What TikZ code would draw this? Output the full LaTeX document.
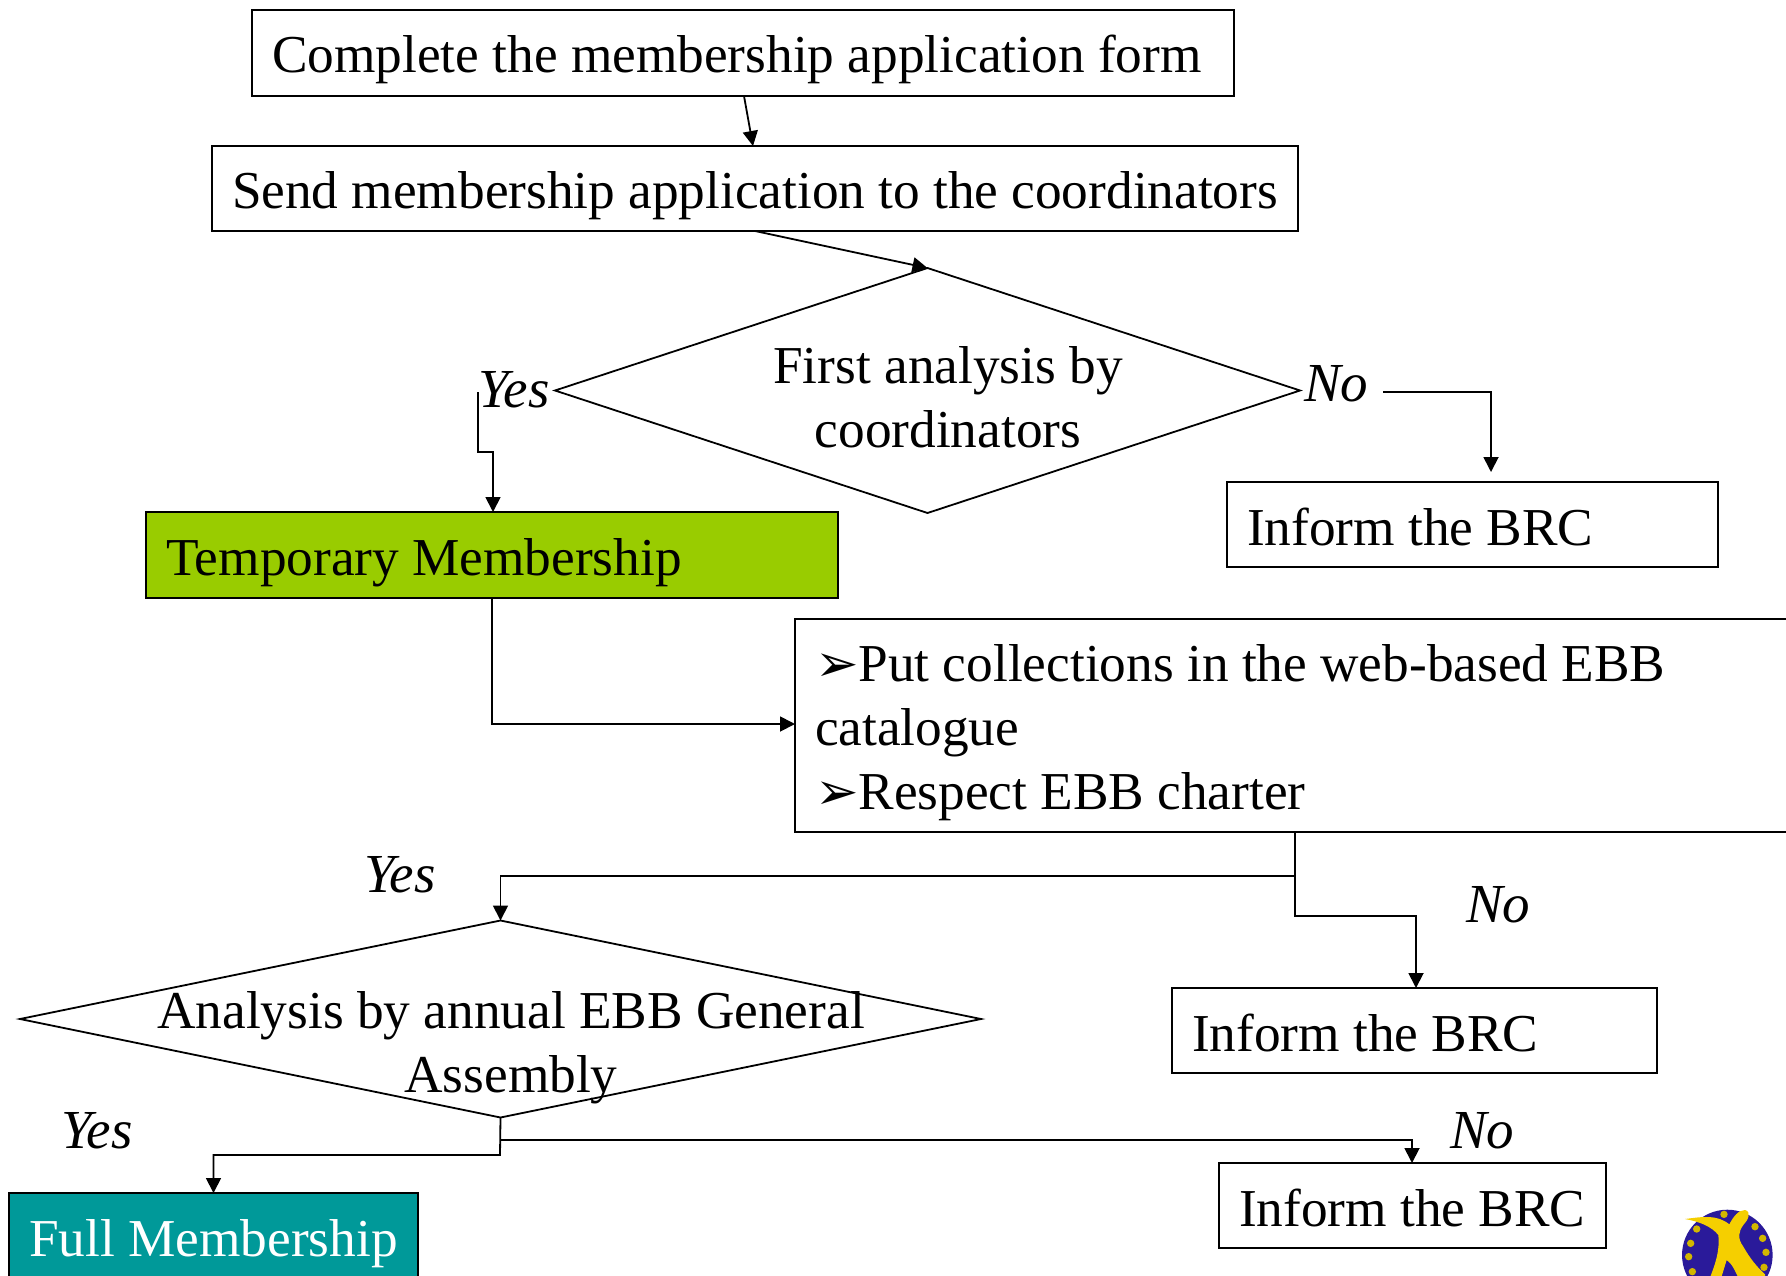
\documentclass[tikz,border=0pt]{standalone}
\usepackage{fontspec}
\setmainfont{Liberation Serif}
\newfontfamily\symfont{DejaVu Sans}
\usetikzlibrary{arrows.meta,shapes.geometric,calc}
\definecolor{tempgreen}{HTML}{99CC00}
\definecolor{fullteal}{HTML}{009999}
\definecolor{logoblue}{HTML}{2A1A9A}
\definecolor{logoyellow}{HTML}{F5CF00}
\newcommand{\bul}{{\symfont\fontsize{52}{52}\selectfont ➢}}
\tikzset{
  txt/.style={font=\fontsize{53.3}{64}\selectfont},
  boxbase/.style={txt,draw=black,line width=1.8pt,anchor=north west,align=flush left,inner xsep=20pt,inner ysep=0pt,outer sep=0pt},
  box/.style={boxbase,text height=45pt,text depth=7pt},
  boxmid/.style={boxbase,text height=46pt,text depth=6pt},
  boxlow/.style={boxbase,text height=47pt,text depth=5pt},
  dmd/.style={draw=black,line width=1.8pt,diamond,inner sep=0pt,outer sep=0pt},
  dtext/.style={txt,align=center,inner sep=0pt},
  lab/.style={font=\fontsize{55}{64}\selectfont\itshape,anchor=base west,inner sep=0pt},
  conn/.style={draw=black,line width=1.8pt},
  arr/.style={conn,-{Triangle[length=15pt,width=15pt]}},
}
\begin{document}
\begin{tikzpicture}[x=1pt,y=-1pt]
\useasboundingbox (0,0) rectangle (1786,1275);
\clip (0,0) rectangle (1786,1275);
\fill[white] (0,0) rectangle (1786,1275);

\node[box,minimum width=982pt,minimum height=86pt,text width=942pt] (form) at (252,10) {Complete the membership application form};
\node[boxmid,minimum width=1086pt,minimum height=85pt,text width=1046pt] (send) at (212,146) {Send membership application to the coordinators};
\node[dmd,minimum width=745pt,minimum height=245pt] (first) at (927.5,390.5) {};
\node[dtext] (firsttext) at (948,397) {First analysis by\\coordinators};
\node[boxmid,fill=tempgreen,minimum width=692pt,minimum height=86pt,text width=652pt] (temp) at (146,512) {Temporary Membership};
\node[boxlow,minimum width=491pt,minimum height=85pt,text width=451pt] (brca) at (1227,482) {Inform the BRC};
\node[boxbase,minimum width=1040pt,minimum height=213pt,text width=1000pt] (put) at (795,619) {\rule{0pt}{52pt}\bul Put collections in the web-based EBB\\catalogue\\\bul Respect EBB charter};
\node[boxlow,minimum width=485pt,minimum height=85pt,text width=445pt] (brcb) at (1172,988) {Inform the BRC};
\node[dmd,minimum width=961pt,minimum height=197pt] (annual) at (500.5,1019) {};
\node[dtext] (annualtext) at (511,1048) {Analysis by annual EBB General\\Assembly};
\node[boxlow,minimum width=387pt,minimum height=85pt,text width=347pt] (brcc) at (1219,1163) {Inform the BRC};
\node[box,fill=fullteal,text=white,minimum width=409pt,minimum height=88pt,text width=369pt] (full) at (9,1193) {Full Membership};

\node[lab] (yesa) at (478,407) {Yes};
\node[lab] (noa) at (1304,401) {No};
\node[lab] (yesb) at (364,892) {Yes};
\node[lab] (nob) at (1466,922) {No};
\node[lab] (yesc) at (61,1148) {Yes};
\node[lab] (noc) at (1450,1148) {No};

\coordinate (c1s) at (744,96);
\coordinate (c1e) at (753,146);
\coordinate (c2s) at (755,231);
\coordinate (c3s) at (1383,392);
\coordinate (c3e) at (1491,472);
\coordinate (c4s) at (478,392);
\coordinate (c4e) at (493,512);
\coordinate (c6s) at (1295,832);
\coordinate (c7e) at (1416,988);
\coordinate (c9e) at (1412,1163);

\draw[arr] (c1s) -- (c1e);
\draw[arr] (c2s) -- (first.north);
\draw[arr] (c3s) -| (c3e);
\draw[arr] (c4s) -- (478,452) -| (c4e);
\draw[arr] (temp.south) |- (put.west |- 0,724);
\draw[arr] (c6s) -- (1295,876) -| (annual.north);
\draw[arr] (c6s) -- (1295,916) -| (c7e);
\draw[arr] (annual.south) -- (500,1155) -| (full.north);
\draw[arr] (500,1140) -| (c9e);

% logo
\begin{scope}[shift={(1640,1175)},x=0.3333pt,y=-0.3333pt]
\fill[logoblue] (262,240) circle[radius=45.3pt];
\foreach \a/\b in {252/118,170/162,345/155,368/190,152/205,146/245,378/232,157/290,372/277}
  \fill[logoyellow!70!olive] (\a,\b) circle[radius=3.7pt];
\fill[logoyellow] (135,132) .. controls (190,125) and (230,118) .. (268,148)
  .. controls (280,125) and (295,105) .. (315,105) .. controls (335,110) and (325,135) .. (310,150)
  .. controls (295,170) and (292,190) .. (310,215) .. controls (330,250) and (350,275) .. (375,298)
  -- (375,320) -- (300,320) .. controls (285,285) and (275,265) .. (260,255)
  -- (240,320) -- (205,320) .. controls (225,270) and (240,230) .. (235,180)
  .. controls (215,155) and (180,140) .. (135,132) -- cycle;
\end{scope}
\end{tikzpicture}
\end{document}
